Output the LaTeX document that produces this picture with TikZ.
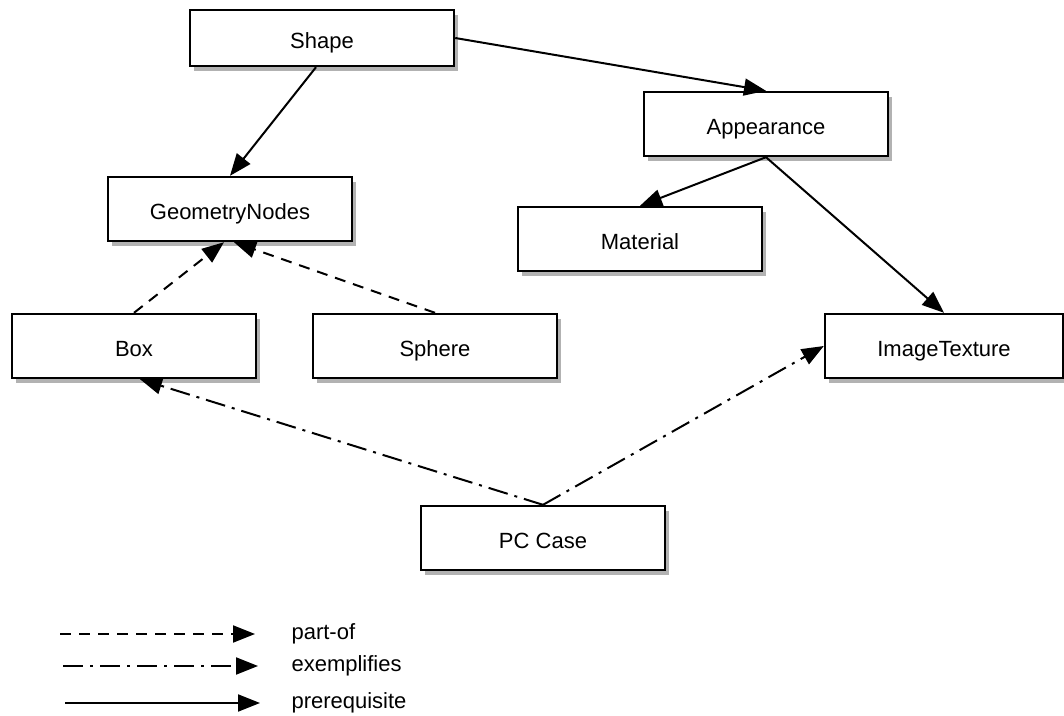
\documentclass[tikz,border=0pt]{standalone}
\usepackage{fontspec}
\setmainfont{Liberation Sans}
\usetikzlibrary{arrows.meta,shadows}
\begin{document}
\begin{tikzpicture}[x=1pt,y=-1pt,
  box/.style={draw=black, line width=2.4pt, fill=white, minimum width=244pt, minimum height=64pt, inner sep=0pt, text height=21pt, text depth=0pt, font=\fontsize{22}{26}\selectfont,
    drop shadow={shadow xshift=4pt, shadow yshift=-5pt, opacity=0.3, fill=black}},
  conn/.style={line width=2pt, -{Triangle[length=22pt,width=17pt]}},
  partof/.style={conn, dash pattern=on 11pt off 8pt},
  exempl/.style={conn, dash pattern=on 20pt off 7pt on 3pt off 7pt},
  legtext/.style={anchor=west, font=\fontsize{22}{26}\selectfont}]
\useasboundingbox (0,0) rectangle (1064,715);
\node[box, minimum width=264pt, minimum height=56pt] (shape) at (322,38) {Shape};
\node[box] (app) at (766,124) {Appearance};
\node[box] (geo) at (230,209) {GeometryNodes};
\node[box] (mat) at (640,239) {Material};
\node[box] (boxn) at (134,346) {Box};
\node[box] (sph) at (435,346) {Sphere};
\node[box, minimum width=238pt] (img) at (944,346) {ImageTexture};
\node[box] (pc) at (543,538) {PC Case};

\draw[conn] (shape.east) -- (app.north);
\draw[conn] ([xshift=-6pt]shape.south) -- (geo.north);
\draw[conn] (app.south) -- (mat.north);
\draw[conn] (app.south) -- (img.north);
\draw[partof] (boxn.north) -- ([xshift=-6pt]geo.south);
\draw[partof] (sph.north) -- ([xshift=4pt]geo.south);
\draw[exempl] (pc.north) -- ([xshift=6pt]boxn.south);
\draw[exempl] (pc.north) -- (img.west);

\coordinate (l1a) at (60,634); \coordinate (l1b) at (255,634);
\coordinate (l2a) at (63,666); \coordinate (l2b) at (258,666);
\coordinate (l3a) at (65,703); \coordinate (l3b) at (260,703);
\draw[partof] (l1a) -- (l1b);
\draw[exempl] (l2a) -- (l2b);
\draw[conn] (l3a) -- (l3b);
\node[legtext] (t1) at (288,634) {part-of};
\node[legtext] (t2) at (288,666) {exemplifies};
\node[legtext] (t3) at (288,703) {prerequisite};
\end{tikzpicture}
\end{document}
